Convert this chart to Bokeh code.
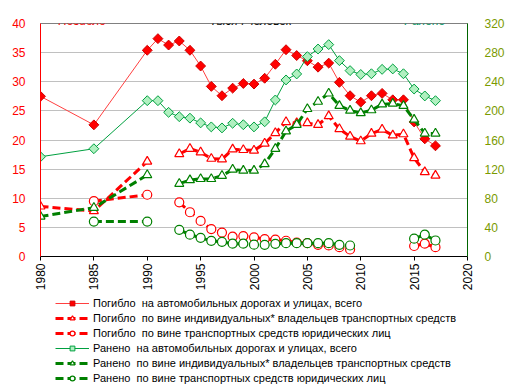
import math
from bokeh.plotting import figure
from bokeh.layouts import column
from bokeh.models import (Range1d, LinearAxis, Legend, LegendItem, Label,
                          SingleIntervalTicker, ColumnDataSource)
from bokeh.embed import file_html
from bokeh.resources import INLINE

nan = float("nan")

years = [1980, 1985, 1990, 1991, 1992, 1993, 1994, 1995, 1996, 1997, 1998, 1999,
         2000, 2001, 2002, 2003, 2004, 2005, 2006, 2007, 2008, 2009, 2010, 2011,
         2012, 2013, 2014, 2015, 2016, 2017]

# Killed, thousand persons (left axis)
killed_total = [27.5, 22.6, 35.4, 37.4, 36.3, 37.0, 35.4, 32.7, 29.2, 27.6, 28.9, 29.7,
                29.6, 30.6, 33.0, 35.5, 34.5, 33.6, 32.5, 33.2, 29.9, 27.6, 26.5, 27.6,
                28.0, 26.9, 26.9, 23.1, 20.2, 19.0]
killed_indiv = [8.6, 7.8, 16.3, nan, nan, 17.6, 18.5, 17.9, 16.8, 16.7, 18.4, 18.3,
                18.2, 19.4, 21.2, 23.1, 22.9, 22.9, 22.6, 24.1, 21.9, 20.6, 19.8, 21.1,
                21.8, 20.8, 21.0, 16.9, 14.5, 13.9]
killed_legal = [nan, 9.5, 10.6, nan, nan, 9.3, 7.6, 6.1, 4.7, 4.1, 3.4, 3.5,
                3.3, 3.0, 2.9, 2.7, 2.4, 2.3, 2.0, 1.9, 1.6, 1.2, nan, nan,
                nan, nan, nan, 1.8, 2.2, 1.6]

# Injured, thousand persons (right axis)
injured_total = [137, 148, 214, 214, 198, 192, 190, 183.5, 178, 176.6, 183, 181,
                 178, 185, 215, 242.5, 250.7, 274.5, 285, 291, 269, 255.3, 250, 251,
                 257, 257.6, 251, 230, 220.5, 214]
injured_indiv = [55, 67, 112, nan, nan, 100, 105, 106.6, 106.6, 111, 119.5, 118,
                 118, 127, 148, 172, 181, 202.7, 212.7, 224, 207, 200.4, 197, 201,
                 209, 210, 207, 188, 169, 169]
injured_legal = [nan, 48, 48, nan, nan, 36.6, 30, 25.6, 21.5, 20.1, 17.6, 17.6,
                 16.2, 16.0, 17.4, 18.3, 18.3, 18.3, 18.3, 18.3, 16.0, 15.1, nan, nan,
                 nan, nan, nan, 24.5, 30, 22]

labels = [
    "Погибло  на автомобильных дорогах и улицах, всего",
    "Погибло  по вине индивидуальных* владельцев транспортных средств",
    "Погибло  по вине транспортных средств юридических лиц",
    "Ранено  на автомобильных дорогах и улицах, всего",
    "Ранено  по вине индивидуальных* владельцев транспортных средств",
    "Ранено  по вине транспортных средств юридических лиц",
]

FONT = "Liberation Sans"
RED = "#ff0000"
GREEN = "#008000"

# series styles: (column, axis, line style, marker style)
styles = [
    ("kt", "default", dict(line_color="#ff4040", line_width=1),
     dict(marker="square", angle=math.pi / 4, size=7, fill_color=RED, line_color="#d00000", line_width=1)),
    ("ki", "default", dict(line_color=RED, line_width=3, line_dash="8 4"),
     dict(marker="triangle", size=9, fill_color="white", line_color=RED, line_width=1.2)),
    ("kl", "default", dict(line_color=RED, line_width=3, line_dash="8 4"),
     dict(marker="circle", size=9, fill_color="white", line_color=RED, line_width=1.2)),
    ("it", "right", dict(line_color="#00a040", line_width=1),
     dict(marker="square", angle=math.pi / 4, size=7, fill_color="#b0f0c0", line_color="#00a040", line_width=1)),
    ("ii", "right", dict(line_color=GREEN, line_width=3, line_dash="8 4"),
     dict(marker="triangle", size=9, fill_color="white", line_color=GREEN, line_width=1.2)),
    ("il", "right", dict(line_color=GREEN, line_width=3, line_dash="8 4"),
     dict(marker="circle", size=9, fill_color="white", line_color=GREEN, line_width=1.2)),
]

src = ColumnDataSource(dict(x=years, kt=killed_total, ki=killed_indiv, kl=killed_legal,
                            it=injured_total, ii=injured_indiv, il=injured_legal))

W = 512
H_MAIN = 296
H_LEG = 95

p = figure(width=W, height=H_MAIN, x_range=Range1d(1980, 2020), y_range=Range1d(0, 40),
           output_backend="svg", toolbar_location=None,
           min_border_left=40, min_border_right=45, min_border_top=23, min_border_bottom=40)
p.extra_y_ranges = {"right": Range1d(0, 320)}
p.outline_line_color = "#808080"
p.background_fill_color = "white"
p.border_fill_color = "white"

# axes
p.xaxis.ticker = SingleIntervalTicker(interval=5, num_minor_ticks=0)
p.xaxis.major_label_orientation = math.pi / 2
p.xaxis.major_label_text_font = FONT
p.xaxis.major_label_text_font_size = "12px"
p.xaxis.major_label_text_color = "black"
p.xaxis.axis_line_color = "black"
p.xaxis.major_tick_line_color = "black"
p.xaxis.major_tick_out = 4
p.xaxis.major_tick_in = 0
p.xaxis.minor_tick_line_color = None
p.xaxis.major_label_standoff = 3

p.yaxis.ticker = SingleIntervalTicker(interval=5, num_minor_ticks=0)
p.yaxis.major_label_text_font = FONT
p.yaxis.major_label_text_font_size = "12px"
p.yaxis.major_label_text_color = RED
p.yaxis.axis_line_color = RED
p.yaxis.major_tick_line_color = None
p.yaxis.minor_tick_line_color = None
p.yaxis.major_label_standoff = 9

raxis = LinearAxis(y_range_name="right", ticker=SingleIntervalTicker(interval=40, num_minor_ticks=0))
raxis.major_label_text_font = FONT
raxis.major_label_text_font_size = "12px"
raxis.major_label_text_color = "#7a9a00"
raxis.axis_line_color = "#006400"
raxis.major_tick_line_color = None
raxis.minor_tick_line_color = None
raxis.major_label_standoff = 11
p.add_layout(raxis, "right")

p.xgrid.visible = False
p.ygrid.ticker = SingleIntervalTicker(interval=5, num_minor_ticks=0)
p.ygrid.grid_line_color = "#c0c0c0"

for col, rng, lstyle, mstyle in styles:
    p.line("x", col, source=src, y_range_name=rng, **lstyle)
    p.scatter("x", col, source=src, y_range_name=rng, **mstyle)

# header texts
for txt, xv, colr in [("Погибло", 1983.9, RED), ("Тысяч человек", 1999.7, "black"),
                      ("Ранено", 2016.0, "#009966")]:
    p.add_layout(Label(x=xv, y=40.45, text=txt, text_align="center", text_baseline="alphabetic",
                       text_font=FONT, text_font_style="italic", text_font_size="12px",
                       text_color=colr))

# legend panel (separate figure under the chart; its frame is aligned with the chart's frame)
lg = figure(width=W, height=H_LEG, x_range=Range1d(0, 1), y_range=Range1d(0, 1),
            output_backend="svg", toolbar_location=None,
            min_border_left=40, min_border_right=45, min_border_top=0, min_border_bottom=0)
lg.axis.visible = False
lg.grid.visible = False
lg.outline_line_color = None
lg.background_fill_color = "white"
lg.border_fill_color = "white"

items = []
for (col, rng, lstyle, mstyle), lab in zip(styles, labels):
    # same series, but outside this panel's ranges: only the legend sample shows
    r1 = lg.line("x", col, source=src, **lstyle)
    ms = dict(mstyle)
    ms["size"] = ms["size"] * 0.6
    r2 = lg.scatter("x", col, source=src, **ms)
    items.append(LegendItem(label=lab, renderers=[r1, r2]))

legend = Legend(items=items, location=(15, 7), padding=0, margin=0,
                border_line_color=None, background_fill_alpha=0,
                label_text_font=FONT, label_text_font_size="11px", label_text_color="black",
                glyph_width=34, glyph_height=12, label_height=12, spacing=3,
                label_standoff=4)
lg.add_layout(legend)

layout = column(p, lg, spacing=0)
open("out.html", "w").write(file_html(layout, INLINE))
